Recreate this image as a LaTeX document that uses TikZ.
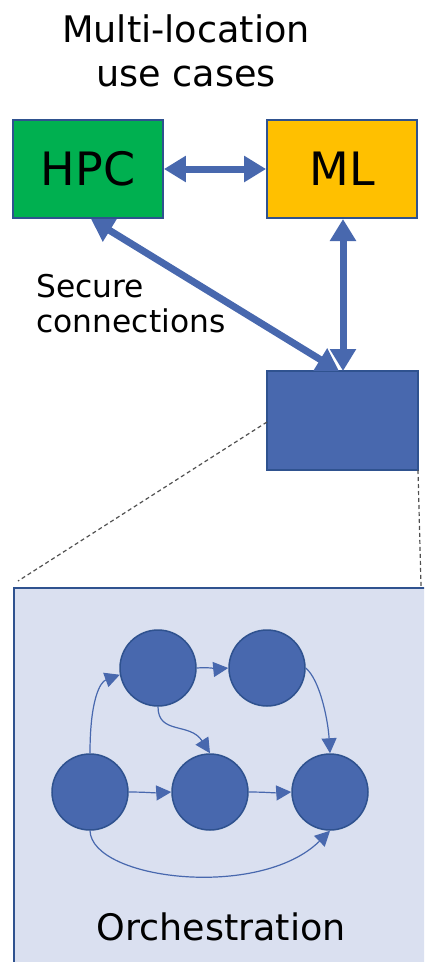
\documentclass[tikz,border=0pt]{standalone}
\usepackage{fontspec}
\setmainfont{DejaVu Sans}
\usetikzlibrary{arrows.meta}

\definecolor{flow}{RGB}{72,104,174}
\definecolor{edgeblue}{RGB}{47,82,143}
\definecolor{hpcgreen}{RGB}{0,176,80}
\definecolor{mlgold}{RGB}{255,192,0}
\definecolor{panel}{RGB}{218,224,240}
\definecolor{dashgray}{RGB}{80,80,80}

\tikzset{
  site/.style={draw=edgeblue, line width=1.8pt, minimum width=150pt, minimum height=98pt,
    inner sep=0pt, font=\fontsize{46}{55}\selectfont},
  link/.style={draw=flow, line width=7pt,
    {Triangle[width=25pt,length=22pt]}-{Triangle[width=25pt,length=22pt]}},
  task/.style={circle, draw=edgeblue, line width=1.5pt, fill=flow, minimum size=76pt, inner sep=0pt},
  dep/.style={draw=flow, line width=1.2pt, -{Triangle[width=15pt,length=15pt]}},
  zoomline/.style={draw=dashgray, line width=1.2pt, dash pattern=on 4pt off 3pt},
}

\begin{document}
\begin{tikzpicture}[x=1pt, y=-1pt]
  \useasboundingbox (0,0) rectangle (424,962);
  \clip (0,0) rectangle (424,962);

  % heading (base anchor sits on the last line)
  \node[align=center, anchor=base, font=\fontsize{36.6}{44}\selectfont] (title) at (186,86)
    {Multi-location\\use cases};

  % sites
  \node[site, fill=hpcgreen] (hpc) at (88,169) {HPC};
  \node[site, fill=mlgold] (ml) at (342,169) {ML};
  \node[draw=edgeblue, line width=1.8pt, fill=flow, minimum width=151pt, minimum height=99pt,
    inner sep=0pt] (local) at (342.5,420.5) {};

  % secure links
  \coordinate (hpcS) at (91,219);
  \coordinate (localD) at (339,371);
  \coordinate (mlS) at (343,219);
  \coordinate (localV) at (343,371);
  \draw[link] (hpc.east) -- (ml.west);
  \draw[link] (hpcS) -- (localD);
  \draw[link] (mlS) -- (localV);

  \node[align=left, anchor=base west, font=\fontsize{31.3}{35}\selectfont] (secure) at (33,332)
    {Secure\\connections};

  % zoom panel
  \node[draw=edgeblue, line width=1.8pt, fill=panel, anchor=north west, minimum width=430pt,
    minimum height=400pt, inner sep=0pt] (panelbox) at (13,587) {};
  \coordinate (zA) at (267,422);
  \coordinate (zB) at (18,581);
  \coordinate (zC) at (418,470);
  \coordinate (zD) at (421,586);
  \draw[zoomline] (zA) -- (zB);
  \draw[zoomline] (zC) -- (zD);

  % workflow graph
  \node[task] (t1) at (158,668) {};
  \node[task] (t2) at (267,668) {};
  \node[task] (t3) at (90,792) {};
  \node[task] (t4) at (210,792) {};
  \node[task] (t5) at (330,792) {};

  \draw[dep] (t3.north) .. controls (90,700) and (100,682) .. (t1.190);
  \draw[dep] (t1.east) .. controls (212,667) and (218,669) .. (t2.west);
  \draw[dep] (t1.south) .. controls (158,735) and (190,722) .. (t4.north);
  \draw[dep] (t2.east) .. controls (320,680) and (328,720) .. (t5.north);
  \draw[dep] (t3.east) .. controls (145,792) and (155,793) .. (t4.west);
  \draw[dep] (t4.east) .. controls (265,792) and (275,793) .. (t5.west);
  \draw[dep] (t3.south) .. controls (92,880) and (260,900) .. (t5.south);

  \node[anchor=base west, font=\fontsize{36.5}{44}\selectfont] (orch) at (93,940) {Orchestration};
\end{tikzpicture}
\end{document}
